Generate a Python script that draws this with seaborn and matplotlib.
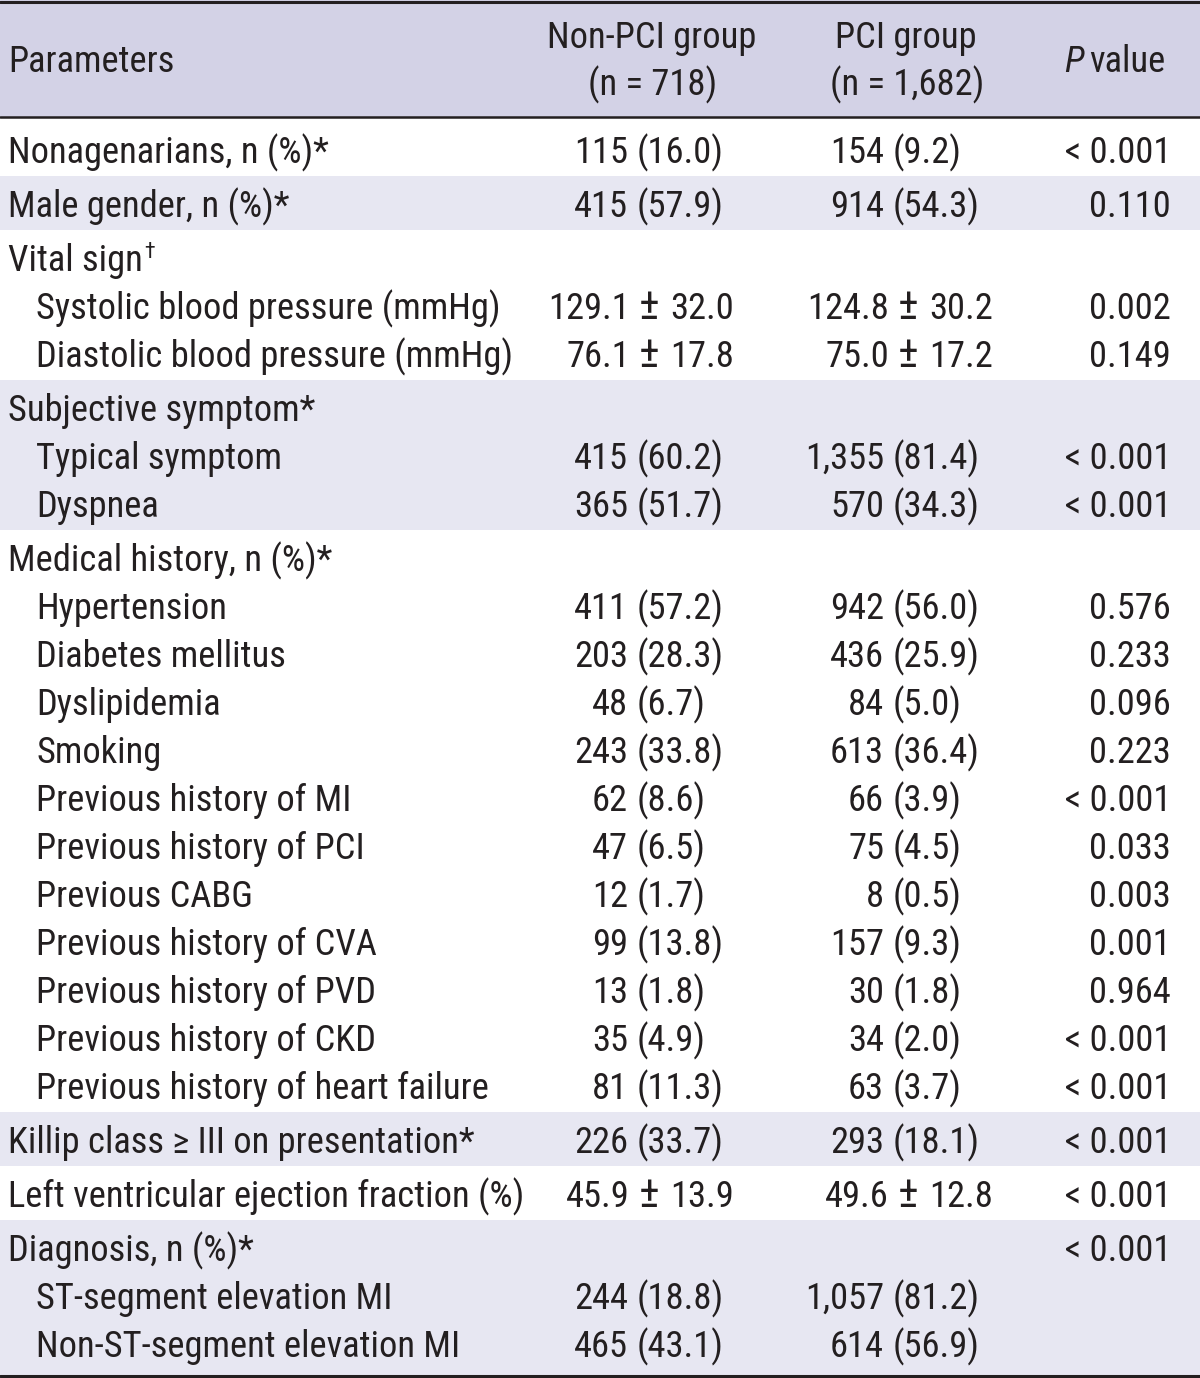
import matplotlib
matplotlib.use("Agg")
import matplotlib.pyplot as plt
import seaborn as sns
from matplotlib import font_manager as fm

# ---------------- data ----------------
parameters = [
    "Nonagenarians, n (%)*",
    "Male gender, n (%)*",
    "Vital sign",
    "Systolic blood pressure (mmHg)",
    "Diastolic blood pressure (mmHg)",
    "Subjective symptom*",
    "Typical symptom",
    "Dyspnea",
    "Medical history, n (%)*",
    "Hypertension",
    "Diabetes mellitus",
    "Dyslipidemia",
    "Smoking",
    "Previous history of MI",
    "Previous history of PCI",
    "Previous CABG",
    "Previous history of CVA",
    "Previous history of PVD",
    "Previous history of CKD",
    "Previous history of heart failure",
    "Killip class \u2265 III on presentation*",
    "Left ventricular ejection fraction (%)",
    "Diagnosis, n (%)*",
    "ST-segment elevation MI",
    "Non-ST-segment elevation MI",
]
label_marks = ["", "", "\u2020"] + [""] * 22
is_subitem = [False, False, False, True, True, False, True, True, False,
              True, True, True, True, True, True, True, True, True, True, True,
              False, False, False, True, True]
block_id = [0, 1, 2, 2, 2, 3, 3, 3, 4, 4, 4, 4, 4, 4, 4, 4, 4, 4, 4, 4, 5, 6, 7, 7, 7]

non_pci = [
    "115 (16.0)", "415 (57.9)", "", "129.1 \u00b1 32.0", "76.1 \u00b1 17.8",
    "", "415 (60.2)", "365 (51.7)", "",
    "411 (57.2)", "203 (28.3)", "48 (6.7)", "243 (33.8)", "62 (8.6)",
    "47 (6.5)", "12 (1.7)", "99 (13.8)", "13 (1.8)", "35 (4.9)", "81 (11.3)",
    "226 (33.7)", "45.9 \u00b1 13.9", "", "244 (18.8)", "465 (43.1)",
]
pci = [
    "154 (9.2)", "914 (54.3)", "", "124.8 \u00b1 30.2", "75.0 \u00b1 17.2",
    "", "1,355 (81.4)", "570 (34.3)", "",
    "942 (56.0)", "436 (25.9)", "84 (5.0)", "613 (36.4)", "66 (3.9)",
    "75 (4.5)", "8 (0.5)", "157 (9.3)", "30 (1.8)", "34 (2.0)", "63 (3.7)",
    "293 (18.1)", "49.6 \u00b1 12.8", "", "1,057 (81.2)", "614 (56.9)",
]
p_values = [
    "< 0.001", "0.110", "", "0.002", "0.149",
    "", "< 0.001", "< 0.001", "",
    "0.576", "0.233", "0.096", "0.223", "< 0.001",
    "0.033", "0.003", "0.001", "0.964", "< 0.001", "< 0.001",
    "< 0.001", "< 0.001", "< 0.001", "", "",
]
header_param = "Parameters"
header_nonpci = ["Non-PCI group", "(n = 718)"]
header_pci = ["PCI group", "(n = 1,682)"]
header_p = ("P", "value")

# ---------------- style ----------------
sns.set_theme(style="white")


def _stretch_num(s):
    if isinstance(s, (int, float)):
        return s
    return fm.stretch_dict.get(str(s).lower(), 500)


def _weight_num(w):
    if isinstance(w, (int, float)):
        return w
    return fm.weight_dict.get(str(w).lower(), 400)


pref = ["Liberation Sans Narrow", "Roboto Condensed", "Noto Sans", "Open Sans",
        "Roboto", "Lato", "Inter", "DejaVu Sans", "Liberation Sans"]
cands = []
for f in fm.fontManager.ttflist:
    sn = _stretch_num(f.stretch)
    nm = f.name
    narrow_name = ("Narrow" in nm) or ("Condensed" in nm)
    if f.style == "normal" and _weight_num(f.weight) == 400 and (sn <= 400 or narrow_name):
        rank = next((k for k, p in enumerate(pref) if nm.startswith(p)), len(pref))
        cands.append((rank, sn, nm, f.fname))
cands.sort()

if cands:
    chosen = cands[0]
    fp_reg = fm.FontProperties(fname=chosen[3])
    ital = [f.fname for f in fm.fontManager.ttflist
            if f.name == chosen[2] and f.style == "italic"
            and _weight_num(f.weight) == 400 and _stretch_num(f.stretch) == chosen[1]]
    fp_it = fm.FontProperties(fname=ital[0]) if ital else fm.FontProperties(
        family=["Liberation Sans", "DejaVu Sans"], style="italic")
else:
    fp_reg = fm.FontProperties(family=["Liberation Sans", "DejaVu Sans"])
    fp_it = fm.FontProperties(family=["Liberation Sans", "DejaVu Sans"], style="italic")

plt.rcParams["font.family"] = ["Liberation Sans", "DejaVu Sans"]

TXT = "#231f20"
HEAD_BG = "#d3d2e6"
BAND_BG = "#e7e7f2"

W, H = 1200, 1378
fig = plt.figure(figsize=(W / 100, H / 100), dpi=100)
ax = fig.add_axes([0, 0, 1, 1])
ax.set_xlim(0, W)
ax.set_ylim(H, 0)
ax.axis("off")

# font size: compromise between reference text width and cap height
r = fig.canvas.get_renderer()
probe = ax.text(0, 0, "Left ventricular ejection fraction (%)", fontproperties=fp_reg, fontsize=20)
wpx = probe.get_window_extent(renderer=r).width
probe.remove()
FS_w = 20 * 497.0 / wpx
FS_h = 27.0 / (0.716 * 100 / 72)
FS = min(FS_h, 0.5 * (FS_w + FS_h))
FS = min(FS, FS_w * 1.06)


def T(x, y, s, ha="left", italic=False, size=None):
    fp = (fp_it if italic else fp_reg).copy()
    fp.set_size(size if size else FS)
    return ax.text(x, y, s, fontproperties=fp, color=TXT, ha=ha, va="baseline")


# layout
HEADER_BOTTOM = 117
ROW_PITCH = 48
BLOCK_PAD = 6
FIRST_OFF = 41

# header
ax.axhspan(0, HEADER_BOTTOM, color=HEAD_BG, lw=0, zorder=0)
T(8, 72, header_param)
T(652, 48, header_nonpci[0], ha="center")
T(653, 95, header_nonpci[1], ha="center")
T(906, 48, header_pci[0], ha="center")
T(907, 95, header_pci[1], ha="center")
T(1084, 72, header_p[0], ha="right", italic=True)
T(1089, 72, header_p[1])

# compute row baselines
baselines = []
block_tops = {}
block_bottoms = {}
cursor = HEADER_BOTTOM + 5
prev_block = None
idx_in_block = 0
for i, b in enumerate(block_id):
    if b != prev_block:
        if prev_block is not None:
            cursor = block_bottoms[prev_block]
        block_tops[b] = cursor
        idx_in_block = 0
        prev_block = b
    y = block_tops[b] + FIRST_OFF + ROW_PITCH * idx_in_block
    baselines.append(y)
    block_bottoms[b] = block_tops[b] + ROW_PITCH * (idx_in_block + 1) + BLOCK_PAD
    idx_in_block += 1

BOTTOM = 1376
block_tops[0] = HEADER_BOTTOM
block_bottoms[max(block_bottoms)] = BOTTOM
for b in sorted(block_tops):
    if b % 2 == 1:
        ax.axhspan(block_tops[b], block_bottoms[b], color=BAND_BG, lw=0, zorder=0)

# rules
ax.axhline(1.5, color=TXT, lw=2.2, zorder=3)
ax.axhline(HEADER_BOTTOM, color=TXT, lw=1.8, zorder=3)
ax.axhline(BOTTOM, color=TXT, lw=2.2, zorder=3)

PAREN_X = {"non": 637, "pci": 893}
PM_X = {"non": 649, "pci": 908}


def draw_value(txt, x_key, y):
    if not txt:
        return
    if "\u00b1" in txt:
        a, b = txt.split(" \u00b1 ")
        cx = PM_X[x_key]
        T(cx - 19, y, a, ha="right")
        T(cx, y, "\u00b1", ha="center", size=FS * 1.2)
        T(cx + 21, y, b, ha="left")
    else:
        a, b = txt.split(" ", 1)
        px = PAREN_X[x_key]
        T(px - 9, y, a, ha="right")
        T(px, y, b, ha="left")


label_texts = []
for i, lab in enumerate(parameters):
    y = baselines[i]
    x = 36 if is_subitem[i] else 8
    label_texts.append(T(x, y, lab))
    draw_value(non_pci[i], "non", y)
    draw_value(pci[i], "pci", y)
    if p_values[i]:
        T(1171, y, p_values[i], ha="right")

# superscript marks
fig.canvas.draw()
r = fig.canvas.get_renderer()
inv = ax.transData.inverted()
for i, m in enumerate(label_marks):
    if m:
        bb = label_texts[i].get_window_extent(renderer=r)
        x1 = inv.transform((bb.x1, bb.y0))[0]
        T(x1 + 1, baselines[i] - 13, m, size=FS * 0.6)

fig.savefig("out.png", dpi=100)
